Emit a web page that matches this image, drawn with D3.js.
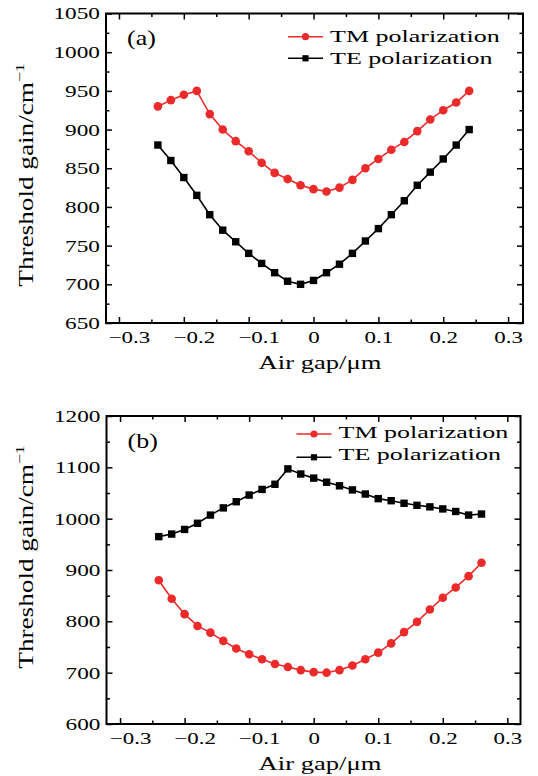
<!DOCTYPE html>
<html>
<head>
<meta charset="utf-8">
<script src="https://cdn.jsdelivr.net/npm/d3@7"></script>
<style>
  body { margin: 0; background: #fff; }
  text { font-family: "Liberation Serif", "Times New Roman", serif; fill: #000; }
</style>
</head>
<body>
<svg id="chart" width="538" height="776"></svg>
<script>
// air gap positions (um)
const gapA = [-0.24, -0.22, -0.20, -0.18, -0.16, -0.14, -0.12, -0.10, -0.08, -0.06, -0.04, -0.02, 0,
              0.02, 0.04, 0.06, 0.08, 0.10, 0.12, 0.14, 0.16, 0.18, 0.20, 0.22, 0.24];
const gapB = [-0.24, -0.22, -0.20, -0.18, -0.16, -0.14, -0.12, -0.10, -0.08, -0.06, -0.04, -0.02, 0,
              0.02, 0.04, 0.06, 0.08, 0.10, 0.12, 0.14, 0.16, 0.18, 0.20, 0.22, 0.24, 0.26];

// threshold gain (cm^-1), panel (a)
const tmA = [930, 938, 945, 950, 920, 900, 885, 872, 857, 844, 836, 828, 823,
             820, 825, 835, 850, 862, 874, 884, 898, 913, 925, 935, 950];
const teA = [880, 860, 838, 815, 790, 770, 755, 740, 727, 715, 704, 700, 705,
             715, 726, 740, 756, 772, 790, 808, 828, 845, 862, 880, 900];

// threshold gain (cm^-1), panel (b)
const tmB = [880, 844, 814, 791, 778, 762, 747, 736, 726, 717, 711, 705, 701,
             700, 705, 714, 726, 739, 757, 779, 799, 823, 846, 866, 888, 914];
const teB = [965, 970, 979, 991, 1007, 1021, 1033, 1046, 1057, 1067, 1097, 1087, 1079,
             1071, 1064, 1056, 1048, 1039, 1035, 1030, 1026, 1023, 1019, 1014, 1007, 1009];

const seriesNames = ["TM polarization", "TE polarization"];
const xTicks = [-0.3, -0.2, -0.1, 0, 0.1, 0.2, 0.3];
const xMinor = [-0.25, -0.15, -0.05, 0.05, 0.15, 0.25];
const yTicksA = [650, 700, 750, 800, 850, 900, 950, 1000, 1050];
const yMinorA = [675, 725, 775, 825, 875, 925, 975, 1025];
const yTicksB = [600, 700, 800, 900, 1000, 1100, 1200];
const yMinorB = [650, 750, 850, 950, 1050, 1150];

const red = "#ec2a2a";
const svg = d3.select("#chart");

// the source font is a lot wider than Times, so stretch text along its baseline
function widen(sel, k) {
  sel.each(function() {
    const t = d3.select(this);
    const x = +t.attr("x") || 0;
    t.attr("x", x / k).attr("transform", `scale(${k},1)`);
  });
}

function label(g, x, y, str, size, k, anchor) {
  return g.append("text")
      .attr("transform", `translate(${x},${y}) scale(${k},1)`)
      .attr("font-size", size)
      .attr("text-anchor", anchor || "start")
      .text(str);
}

function marker(g, kind, color, px, py, r) {
  if (kind === "circle") {
    g.append("circle").attr("cx", px).attr("cy", py).attr("r", r).attr("fill", color);
  } else {
    g.append("rect").attr("x", px - r).attr("y", py - r)
        .attr("width", 2 * r).attr("height", 2 * r).attr("fill", color);
  }
}

function panel(o) {
  const x = d3.scaleLinear().domain(o.xDomain).range([o.left, o.right]);
  const y = d3.scaleLinear().domain(o.yDomain).range([o.bottom, o.top]);
  const g = svg.append("g");

  const fmt = d => d === 0 ? "0" : d3.format(".1f")(d);

  // bottom axis with labels
  g.append("g")
      .attr("transform", `translate(0,${o.bottom})`)
      .call(d3.axisBottom(x).tickValues(xTicks).tickFormat(fmt).tickSize(-6).tickSizeOuter(0).tickPadding(8))
      .call(a => a.select(".domain").remove())
      .call(a => a.selectAll("text").attr("font-size", 17).attr("font-family", null)
          .attr("dx", d => d < 0 ? 10 / 1.35 : 0))
      .call(a => widen(a.selectAll("text"), 1.35));
  g.append("g")
      .attr("transform", `translate(0,${o.bottom})`)
      .call(d3.axisBottom(x).tickValues(xMinor).tickFormat("").tickSize(-3.5).tickSizeOuter(0))
      .call(a => a.select(".domain").remove());

  // top axis, ticks only
  g.append("g")
      .attr("transform", `translate(0,${o.top})`)
      .call(d3.axisTop(x).tickValues(xTicks).tickFormat("").tickSize(-6).tickSizeOuter(0))
      .call(a => a.select(".domain").remove());
  g.append("g")
      .attr("transform", `translate(0,${o.top})`)
      .call(d3.axisTop(x).tickValues(xMinor).tickFormat("").tickSize(-3.5).tickSizeOuter(0))
      .call(a => a.select(".domain").remove());

  // left axis with labels
  g.append("g")
      .attr("transform", `translate(${o.left},0)`)
      .call(d3.axisLeft(y).tickValues(o.yTicks).tickFormat(d3.format("d")).tickSize(-6).tickSizeOuter(0).tickPadding(6))
      .call(a => a.select(".domain").remove())
      .call(a => a.selectAll("text").attr("font-size", 17).attr("font-family", null))
      .call(a => widen(a.selectAll("text"), 1.37));
  g.append("g")
      .attr("transform", `translate(${o.left},0)`)
      .call(d3.axisLeft(y).tickValues(o.yMinor).tickFormat("").tickSize(-3.5).tickSizeOuter(0))
      .call(a => a.select(".domain").remove());

  // right axis, ticks only
  g.append("g")
      .attr("transform", `translate(${o.right},0)`)
      .call(d3.axisRight(y).tickValues(o.yTicks).tickFormat("").tickSize(-6).tickSizeOuter(0))
      .call(a => a.select(".domain").remove());
  g.append("g")
      .attr("transform", `translate(${o.right},0)`)
      .call(d3.axisRight(y).tickValues(o.yMinor).tickFormat("").tickSize(-3.5).tickSizeOuter(0))
      .call(a => a.select(".domain").remove());

  g.selectAll(".tick line").attr("stroke-width", 1.5);

  // frame
  g.append("rect")
      .attr("x", o.left).attr("y", o.top)
      .attr("width", o.right - o.left).attr("height", o.bottom - o.top)
      .attr("fill", "none").attr("stroke", "#000").attr("stroke-width", 2);

  // series
  const series = [
    { name: seriesNames[0], values: o.tm, color: red, kind: "circle", r: 4.3 },
    { name: seriesNames[1], values: o.te, color: "#000", kind: "square", r: 3.7 }
  ];
  const line = d3.line().x((d, i) => x(o.gap[i])).y(d => y(d));
  series.forEach(s => {
    g.append("path")
        .attr("d", line(s.values))
        .attr("fill", "none")
        .attr("stroke", s.color)
        .attr("stroke-width", 1.6);
    const m = g.append("g");
    s.values.forEach((v, i) => marker(m, s.kind, s.color, x(o.gap[i]), y(v), s.r));
  });

  // legend
  series.forEach((s, i) => {
    const ly = o.legend.y[i];
    g.append("line")
        .attr("x1", o.legend.x).attr("x2", o.legend.x + 35)
        .attr("y1", ly).attr("y2", ly)
        .attr("stroke", s.color).attr("stroke-width", 1.6);
    marker(g, s.kind, s.color, o.legend.x + 17.5, ly, s.kind === "circle" ? 3.6 : 3.1);
    label(g, o.legend.x + 42, o.legend.ty[i], s.name, 17, 1.53);
  });

  // panel tag
  label(g, o.left + 21, o.top + 31.5, o.tag, 20, 1.3);

  // axis titles
  label(g, 320, o.bottom + 46, "Air gap/μm", 19, 1.4, "middle");
  const yt = g.append("text")
      .attr("transform", `translate(33,${o.yTitleY}) rotate(-90) scale(1.36,1)`)
      .attr("font-size", 20)
      .attr("text-anchor", "middle");
  yt.append("tspan").text("Threshold gain/cm");
  yt.append("tspan").attr("font-size", 13).attr("dy", "-0.7em").text("−1");
}

panel({
  tag: "(a)",
  gap: gapA, tm: tmA, te: teA,
  xDomain: [-0.32, 0.323], yDomain: [650, 1050],
  yTicks: yTicksA, yMinor: yMinorA,
  left: 106, right: 523, top: 13.5, bottom: 323,
  legend: { x: 288, y: [36.7, 58.3], ty: [41.7, 64.3] },
  yTitleY: 175
});

panel({
  tag: "(b)",
  gap: gapB, tm: tmB, te: teB,
  xDomain: [-0.321, 0.3204], yDomain: [600, 1200],
  yTicks: yTicksB, yMinor: yMinorB,
  left: 106.5, right: 520.5, top: 416, bottom: 724,
  legend: { x: 296.5, y: [434, 457.3], ty: [437.5, 459.5] },
  yTitleY: 557
});
</script>
</body>
</html>
